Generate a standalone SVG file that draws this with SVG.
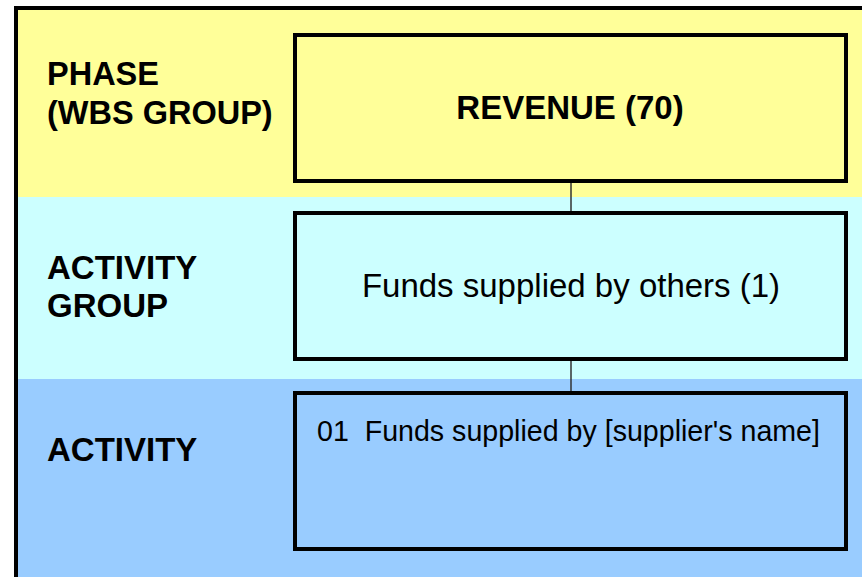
<svg xmlns="http://www.w3.org/2000/svg" width="862" height="577" viewBox="0 0 862 577">
<style>
.box{stroke:#000;stroke-width:4;}
.lbl{font-family:"Liberation Sans",Arial,sans-serif;font-weight:bold;font-size:33px;fill:#000;}
.big{font-family:"Liberation Sans",Arial,sans-serif;font-size:32.5px;fill:#000;}
.conn{stroke:#333;stroke-width:1.5;fill:none;}
</style>
<rect x="0" y="0" width="862" height="577" fill="#fff"/>
<g id="bands">
<rect x="16" y="8" width="860" height="189" fill="#FFFF99"/>
<rect x="16" y="197" width="860" height="182" fill="#CCFFFF"/>
<rect x="16" y="379" width="860" height="210" fill="#99CCFF"/>
<rect x="16" y="8" width="860" height="590" fill="none" stroke="#000" stroke-width="4"/>
<text class="lbl" x="47" y="85" style="font-size:32.5px">PHASE</text>
<text class="lbl" x="47" y="124" style="font-size:32.5px">(WBS GROUP)</text>
<text class="lbl" x="47" y="279">ACTIVITY</text>
<text class="lbl" x="47" y="317">GROUP</text>
<text class="lbl" x="47" y="461">ACTIVITY</text>
</g>
<g id="connectors">
<line class="conn" x1="571" y1="183" x2="571" y2="211"/>
<line class="conn" x1="571" y1="361" x2="571" y2="391"/>
</g>
<g id="revenue">
<rect class="box" x="295" y="35" width="551" height="146" fill="#FFFF99"/>
<text class="lbl" x="570" y="119" text-anchor="middle">REVENUE (70)</text>
</g>
<g id="funds-group">
<rect class="box" x="295" y="213" width="551" height="146" fill="#CCFFFF"/>
<text class="big" x="571" y="297" text-anchor="middle" style="font-size:33px">Funds supplied by others (1)</text>
</g>
<g id="funds-activity">
<rect class="box" x="295" y="393" width="551" height="156" fill="#99CCFF"/>
<text class="big" x="317" y="441" style="font-size:28.6px" xml:space="preserve">01  Funds supplied by [supplier's name]</text>
</g>
</svg>
